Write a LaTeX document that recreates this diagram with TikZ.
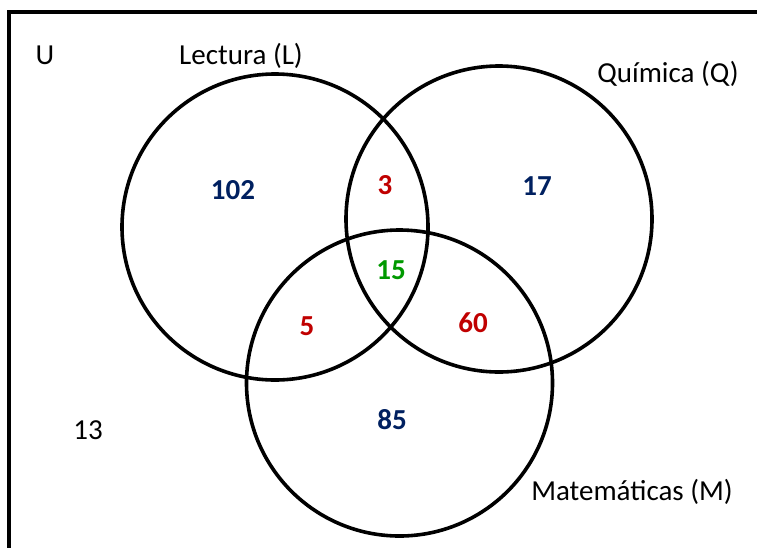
\documentclass[tikz,border=0pt]{standalone}
\usepackage{fontspec}
\setmainfont{Carlito}
\definecolor{numblue}{RGB}{0,32,96}
\definecolor{numred}{RGB}{192,0,0}
\definecolor{numgreen}{RGB}{0,153,0}
\begin{document}
\begin{tikzpicture}[x=1pt,y=-1pt,
  setcircle/.style={circle,draw=black,line width=3.6pt,minimum size=306pt,inner sep=0pt},
  lbl/.style={font=\fontsize{29}{34}\selectfont,inner sep=0pt},
  num/.style={font=\fontsize{29}{34}\selectfont\bfseries,inner sep=0pt}]
\useasboundingbox (0,0) rectangle (757,547);
\clip (0,0) rectangle (757,547);
\draw[line width=3.2pt] (9,560) -- (9,12) -- (770,12);
\node[setcircle] (L) at (275,227) {};
\node[setcircle] (Q) at (499,219) {};
\node[setcircle] (M) at (399.5,383) {};
\node[lbl] (U) at (45,55) {U};
\node[lbl] (Lname) at (241,56) {Lectura (L)};
\node[lbl] (Qname) at (668,74) {Química (Q)};
\node[lbl] (Mname) at (632,492) {Matemáticas (M)};
\node[lbl] (out) at (88,430) {13};
\node[num,text=numblue] (n102) at (233,190) {102};
\node[num,text=numred] (n3) at (385,185) {3};
\node[num,text=numblue] (n17) at (537,186) {17};
\node[num,text=numgreen] (n15) at (391,270) {15};
\node[num,text=numred] (n5) at (307,326) {5};
\node[num,text=numred] (n60) at (473,323) {60};
\node[num,text=numblue] (n85) at (392,420) {85};
\end{tikzpicture}
\end{document}
